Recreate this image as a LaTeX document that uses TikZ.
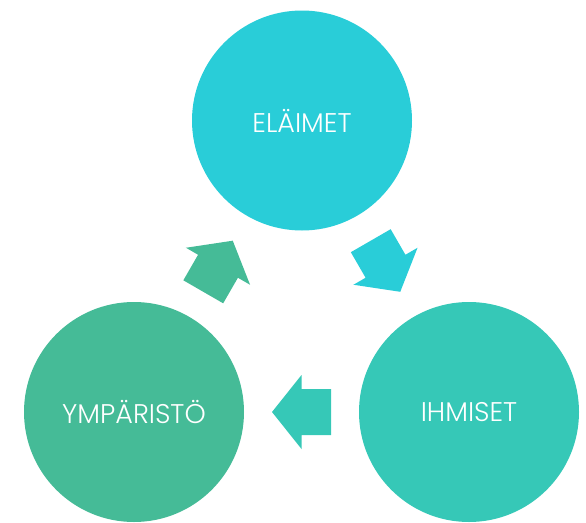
\documentclass[tikz,border=0pt]{standalone}
\usepackage{fontspec}
\setmainfont{Poppins Light}
\usetikzlibrary{calc}
\definecolor{cEla}{RGB}{41,205,216}
\definecolor{cIhm}{RGB}{54,200,183}
\definecolor{cYmp}{RGB}{69,187,151}
\tikzset{
  bubble/.style={circle, minimum size=220pt, inner sep=0pt, text=white,
    font=\fontsize{27}{31}\selectfont}
}
\begin{document}
\begin{tikzpicture}[x=1pt,y=-1pt]
\useasboundingbox (0,0) rectangle (586,522);
\node[bubble, fill=cEla] (ela) at (302,120.5) {ELÄIMET};
\node[bubble, fill=cIhm] (ihm) at (469,412) {IHMISET};
\node[bubble, fill=cYmp] (ymp) at (134,412) {YMPÄRISTÖ};
\fill[cEla, shift={($(ela)!0.5!(ihm)$)}, rotate=-60] (29.5,0) -- (0,37) -- (0,23) -- (-29.5,23) -- (-29.5,-23) -- (0,-23) -- (0,-37) -- cycle;
\fill[cIhm, shift={($(ihm)!0.5!(ymp)$)}, rotate=180] (29.5,0) -- (0,37) -- (0,23) -- (-29.5,23) -- (-29.5,-23) -- (0,-23) -- (0,-37) -- cycle;
\fill[cYmp, shift={($(ymp)!0.5!(ela)$)}, rotate=60] (29.5,0) -- (0,37) -- (0,23) -- (-29.5,23) -- (-29.5,-23) -- (0,-23) -- (0,-37) -- cycle;
\end{tikzpicture}
\end{document}
